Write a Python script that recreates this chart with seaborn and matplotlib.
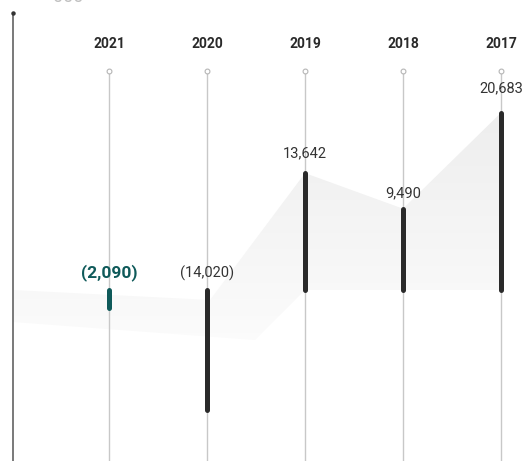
import numpy as np
import pandas as pd
import seaborn as sns
import matplotlib.pyplot as plt
import matplotlib.transforms as mtransforms
from matplotlib.colors import LinearSegmentedColormap
from matplotlib.patches import Polygon

# Net result per year (thousands), most recent first
years = ["2021", "2020", "2019", "2018", "2017"]
values = [-2090, -14020, 13642, 9490, 20683]
labels = ["(2,090)", "(14,020)", "13,642", "9,490", "20,683"]

sns.set_theme(style="white")
plt.rcParams["font.family"] = ["Roboto", "DejaVu Sans"]

W, H, DPI = 526, 461, 100
fig = plt.figure(figsize=(W / DPI, H / DPI), dpi=DPI)
ax = fig.add_axes([0, 0, 1, 1])
ax.set_axis_off()

# layout: column spacing and vertical scale in pixels
x0_px, dx_px = 109, 98
zero_px, k = 290, 0.00857


def px_to_x(p):
    return (p - x0_px) / dx_px


def px_to_y(p):
    return (zero_px - p) / k


ax.set_xlim(px_to_x(0), px_to_x(W))
ax.set_ylim(px_to_y(H), px_to_y(0))

df = pd.DataFrame({"year": years, "value": values, "label": labels})
df["pos"] = np.arange(len(df))

bar_colors = ["#0f5a5a"] + ["#2a2a2a"] * (len(df) - 1)
label_colors = ["#0f5a5a"] + ["#333333"] * (len(df) - 1)
label_weights = ["bold"] + ["normal"] * (len(df) - 1)
label_sizes = [12.5] + [10.5] * (len(df) - 1)

blend = mtransforms.blended_transform_factory(ax.transData, ax.transAxes)

# soft shaded shape behind the bars, following the bar tops
v = df["value"].to_numpy()
poly = [
    (px_to_x(13), 0),
    (px_to_x(210), px_to_y(300)),
    (2, v[2]),
    (3, v[3]),
    (4, v[4]),
    (4, 0),
    (2, 0),
    (px_to_x(255), px_to_y(340)),
    (px_to_x(13), px_to_y(322)),
]
patch = Polygon(poly, closed=True, facecolor="none", edgecolor="none")
ax.add_patch(patch)
grad = np.linspace(0, 1, 256).reshape(-1, 1)
im = ax.imshow(
    grad,
    extent=(px_to_x(0), px_to_x(W), px_to_y(400), px_to_y(100)),
    origin="upper",
    cmap=LinearSegmentedColormap.from_list("shade", ["#ededed", "#ffffff"]),
    aspect="auto",
    zorder=0,
)
im.set_clip_path(patch)

# thin guide lines for each year
ax.vlines(df["pos"], 0, 1 - 73 / H, transform=blend,
          colors="#c8c8c8", linewidth=1, zorder=1)
sns.scatterplot(
    x=df["pos"], y=[px_to_y(71)] * len(df), ax=ax, s=12,
    marker="o", facecolor="white", edgecolor="#b5b5b5", linewidth=0.8,
    zorder=3, legend=False,
)

# value bars from zero
bars = ax.vlines(df["pos"], 0, df["value"], colors=bar_colors,
                 linewidth=3.6, zorder=4)
bars.set_capstyle("round")

# year headers
for p, y in zip(df["pos"], df["year"]):
    ax.text(p, 1 - 44 / H, y, transform=blend, ha="center", va="center",
            fontsize=10, fontweight="bold", color="#2a2a2a")

# value labels above each bar (negatives sit above the zero line)
label_dy = [17, 17, 20, 15, 24]
for p, val, lab, c, w, s, dy in zip(df["pos"], df["value"], df["label"],
                                    label_colors, label_weights, label_sizes,
                                    label_dy):
    anchor = max(val, 0)
    ax.annotate(lab, (p, anchor), xytext=(0, dy * 72 / DPI),
                textcoords="offset points", ha="center", va="center",
                fontsize=s, fontweight=w, color=c, zorder=5)

# left axis line with a small head
ax.plot([px_to_x(13)] * 2, [px_to_y(H), px_to_y(14)], color="#555555",
        linewidth=1.1, zorder=2)
ax.plot([px_to_x(13)], [px_to_y(13)], marker="o", markersize=2.2,
        color="#333333", zorder=2)

# unit caption at the top edge
ax.text(px_to_x(53), px_to_y(2), "000", ha="left", va="baseline",
        fontsize=13, color="#c0c0c0")

fig.savefig("out.png", dpi=DPI)
